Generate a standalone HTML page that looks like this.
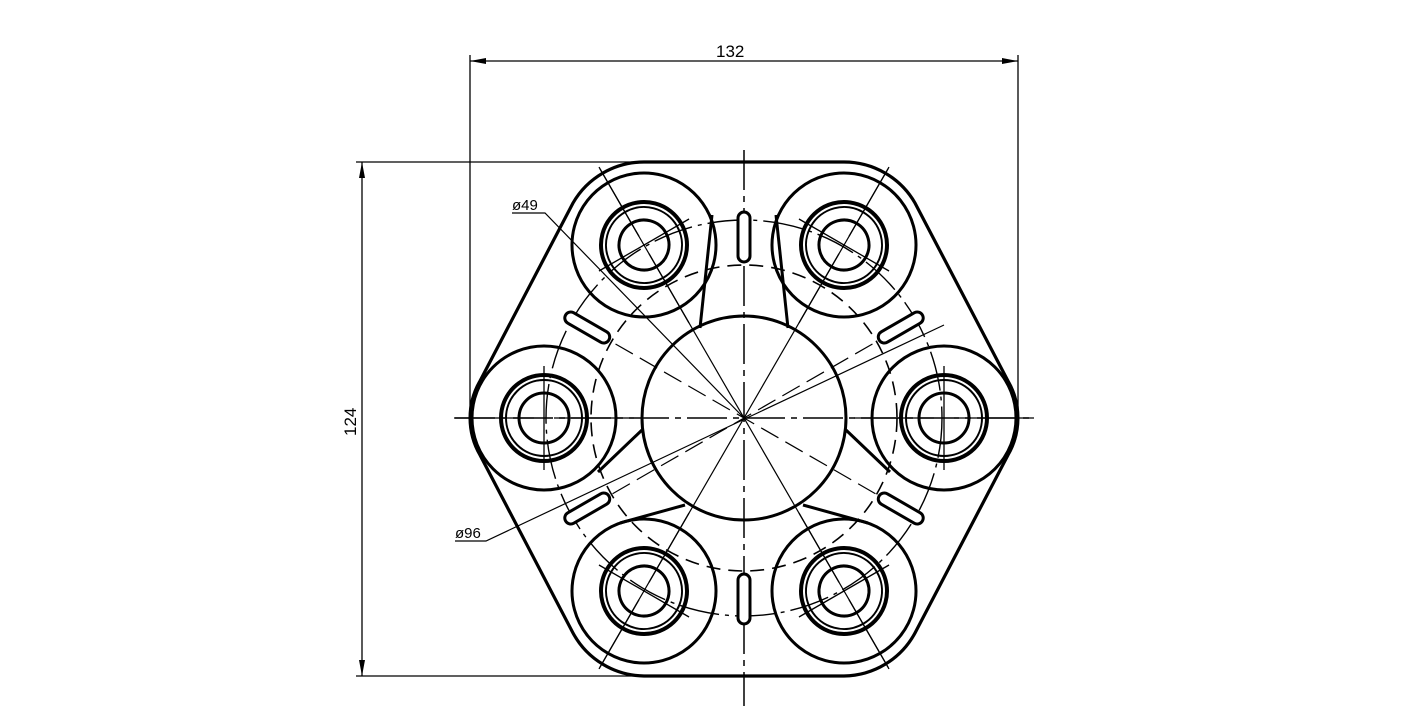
<!DOCTYPE html>
<html><head><style>
html,body{margin:0;padding:0;background:#fff;}
svg{display:block;}
text{font-family:"Liberation Sans",sans-serif;font-size:17px;fill:#000;}
</style></head><body>
<svg width="1416" height="716" viewBox="0 0 1416 716" xmlns="http://www.w3.org/2000/svg">
<defs>
<g id="boss">
  <circle cx="0" cy="0" r="72" fill="none" stroke="#000" stroke-width="3"/>
  <circle cx="0" cy="0" r="43" fill="none" stroke="#000" stroke-width="4"/>
  <circle cx="0" cy="0" r="38" fill="none" stroke="#000" stroke-width="2"/>
  <circle cx="0" cy="0" r="25" fill="none" stroke="#000" stroke-width="3"/>
  <line x1="-90" y1="0" x2="-10" y2="0" stroke="#000" stroke-width="1.3"/>
  <line x1="10" y1="0" x2="90" y2="0" stroke="#000" stroke-width="1.3"/>
  <line x1="0" y1="-52" x2="0" y2="52" stroke="#000" stroke-width="1.3"/>
</g>
<g id="slot">
  <rect x="-25" y="-6" width="50" height="12" rx="6" fill="#fff" stroke="#000" stroke-width="3"/>
</g>
</defs>
<g fill="none" stroke="#000">
<path d="M644,162 L844,162 A82 82 0 0 1 915,203 L1008,381 A74 74 0 0 1 1008,455 L915,633 A82 82 0 0 1 844,676 L644,676 A82 82 0 0 1 573,633 L480,455 A74 74 0 0 1 480,381 L573,203 A82 82 0 0 1 644,162 Z" stroke-width="3.2"/>
<circle cx="744" cy="418" r="102" stroke-width="3"/>
<circle cx="744" cy="418" r="153" stroke-width="1.6" stroke-dasharray="14 8"/>
<circle cx="744" cy="418" r="198" stroke-width="1.4" stroke-dasharray="40 6 4 6"/>
<line x1="455" y1="418" x2="1032" y2="418" stroke-width="1.5" stroke-dasharray="40 6 6 6"/>
<line x1="744" y1="150" x2="744" y2="706" stroke-width="1.5" stroke-dasharray="40 6 6 6"/>
<line x1="600" y1="169" x2="888" y2="667" stroke-width="1.2"/>
<line x1="888" y1="169" x2="600" y2="667" stroke-width="1.2"/>
<line x1="567" y1="316" x2="921" y2="520" stroke-width="1.2" stroke-dasharray="20 8"/>
<line x1="921" y1="316" x2="567" y2="520" stroke-width="1.2" stroke-dasharray="20 8"/>
<polyline points="512,213 545,213 744,418" stroke-width="1.2"/>
<polyline points="455,541 486,541 944,325" stroke-width="1.2"/>
<line x1="470" y1="55" x2="470" y2="418" stroke-width="1.3"/>
<line x1="1018" y1="55" x2="1018" y2="418" stroke-width="1.3"/>
<line x1="470" y1="61" x2="1018" y2="61" stroke-width="1.3"/>
<line x1="356" y1="162" x2="680" y2="162" stroke-width="1.3"/>
<line x1="356" y1="676" x2="680" y2="676" stroke-width="1.3"/>
<line x1="362" y1="162" x2="362" y2="676" stroke-width="1.3"/>
</g>
<g fill="#000">
<polygon points="470,61 486,58 486,64"/>
<polygon points="1018,61 1002,58 1002,64"/>
<polygon points="362,162 359,178 365,178"/>
<polygon points="362,676 359,660 365,660"/>
</g>
<g fill="#fff">
<use href="#boss" transform="translate(944,418)"/>
<use href="#boss" transform="translate(544,418)"/>
<use href="#boss" transform="translate(844,245) rotate(-60)"/>
<use href="#boss" transform="translate(644,245) rotate(60)"/>
<use href="#boss" transform="translate(644,591) rotate(-60)"/>
<use href="#boss" transform="translate(844,591) rotate(60)"/>
</g>
<g fill="none" stroke="#000" stroke-width="3">
<line x1="712" y1="215" x2="700" y2="328"/>
<line x1="776" y1="215" x2="788" y2="328"/>
<line x1="642" y1="430" x2="598" y2="472"/>
<line x1="846" y1="430" x2="890" y2="472"/>
<line x1="685" y1="505" x2="620" y2="523"/>
<line x1="803" y1="505" x2="868" y2="523"/>
</g>
<use href="#slot" transform="translate(744,418) rotate(-90) translate(181,0)"/>
<use href="#slot" transform="translate(744,418) rotate(90) translate(181,0)"/>
<use href="#slot" transform="translate(744,418) rotate(-30) translate(181,0)"/>
<use href="#slot" transform="translate(744,418) rotate(-150) translate(181,0)"/>
<use href="#slot" transform="translate(744,418) rotate(30) translate(181,0)"/>
<use href="#slot" transform="translate(744,418) rotate(150) translate(181,0)"/>
<text x="716" y="57">132</text>
<text x="0" y="0" transform="translate(356,436) rotate(-90)">124</text>
<text x="512" y="210" style="font-size:15px">ø49</text>
<text x="455" y="538" style="font-size:15px">ø96</text>
</svg>
</body></html>
